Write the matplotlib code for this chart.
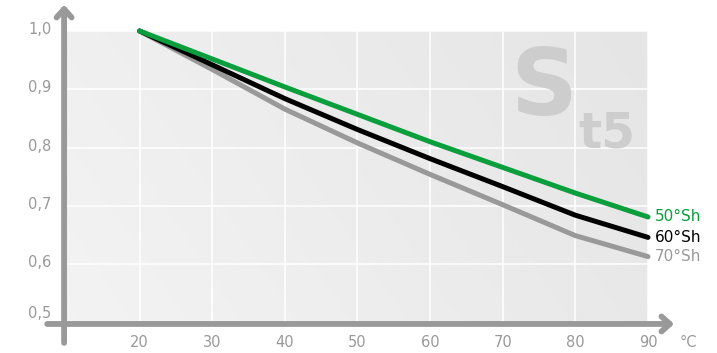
import matplotlib
matplotlib.use("Agg")
import matplotlib.pyplot as plt
import numpy as np
from matplotlib.patches import FancyArrowPatch

temps = [20, 30, 40, 50, 60, 70, 80, 90]
sh50 = [1.0, 0.952, 0.904, 0.857, 0.810, 0.766, 0.722, 0.681]
sh60 = [1.0, 0.942, 0.884, 0.831, 0.781, 0.733, 0.684, 0.646]
sh70 = [1.0, 0.934, 0.866, 0.808, 0.754, 0.702, 0.649, 0.613]
series_labels = ["50°Sh", "60°Sh", "70°Sh"]
series_colors = ["#0a9e3c", "#000000", "#999999"]
xticks = [20, 30, 40, 50, 60, 70, 80, 90]
yticks = [0.5, 0.6, 0.7, 0.8, 0.9, 1.0]
ytick_labels = ["0,5", "0,6", "0,7", "0,8", "0,9", "1,0"]

W, H = 717, 353
fig = plt.figure(figsize=(W / 100, H / 100), dpi=100)
left, right, top, bottom = 67, 648, 31, 322.5
ax = fig.add_axes([left / W, (H - bottom) / H, (right - left) / W, (bottom - top) / H])
ax.set_xlim(10, 90)
ax.set_ylim(0.5, 1.0)

# gradient background
nx, ny = 200, 100
gx, gy = np.meshgrid(np.linspace(0, 1, nx), np.linspace(0, 1, ny))
g = (gx * 0.75 + gy * 0.25)
img = 0.95 - g * 0.055
ax.imshow(img, extent=[0, 1, 0, 1], transform=ax.transAxes, cmap="gray",
          vmin=0, vmax=1, aspect="auto", zorder=0, origin="lower")

for x in xticks:
    ax.axvline(x, color="white", lw=1.1, zorder=1)
for y in yticks:
    ax.axhline(y, color="white", lw=1.1, zorder=1)

# watermark
ax.text(0.82, 0.712, "S", transform=ax.transAxes, fontsize=67, fontweight="bold",
        color="#cdcdcd", ha="center", va="baseline", zorder=1)
ax.text(0.929, 0.602, "t5", transform=ax.transAxes, fontsize=35, fontweight="bold",
        color="#cdcdcd", ha="center", va="baseline", zorder=1)

for vals, c in zip([sh70, sh60, sh50], [series_colors[2], series_colors[1], series_colors[0]]):
    ax.plot(temps, vals, color=c, lw=3.6, solid_capstyle="round",
            solid_joinstyle="round", zorder=3, clip_on=False)

for vals, lab, c in zip([sh50, sh60, sh70], series_labels, series_colors):
    ax.annotate(lab, (temps[-1], vals[-1]), xytext=(5, 0), textcoords="offset points",
                color=c, fontsize=11, ha="left", va="center", annotation_clip=False)

for sp in ax.spines.values():
    sp.set_visible(False)
ax.set_xticks([])
ax.set_yticks([])

for x in xticks:
    ax.annotate(str(x), (x, 0.5), xytext=(0, -14.5), textcoords="offset points",
                ha="center", va="center", color="#999999", fontsize=10.5, annotation_clip=False)
ax.annotate("°C", (90, 0.5), xytext=(29, -14.5), textcoords="offset points",
            ha="center", va="center", color="#999999", fontsize=10.5, annotation_clip=False)
for y, lab in zip(yticks, ytick_labels):
    dy = 6.5 if y == 0.5 else 1.0
    ax.annotate(lab, (10, y), xytext=(-11, dy), textcoords="offset points",
                ha="right", va="center", color="#999999", fontsize=10.5, annotation_clip=False)

# axis arrows
ax_col = "#999999"
ya = FancyArrowPatch((-0.005, -0.07), (-0.005, 1.09), transform=ax.transAxes,
                     arrowstyle="->,head_length=0.5,head_width=0.45", lw=4.2,
                     color=ax_col, capstyle="round", joinstyle="round", clip_on=False,
                     zorder=5, mutation_scale=12, shrinkA=0, shrinkB=0)
xa = FancyArrowPatch((-0.034, -0.005), (1.045, -0.005), transform=ax.transAxes,
                     arrowstyle="->,head_length=0.5,head_width=0.45", lw=4.2,
                     color=ax_col, capstyle="round", joinstyle="round", clip_on=False,
                     zorder=5, mutation_scale=12, shrinkA=0, shrinkB=0)
ax.add_patch(ya)
ax.add_patch(xa)

fig.savefig("out.png", dpi=100)
